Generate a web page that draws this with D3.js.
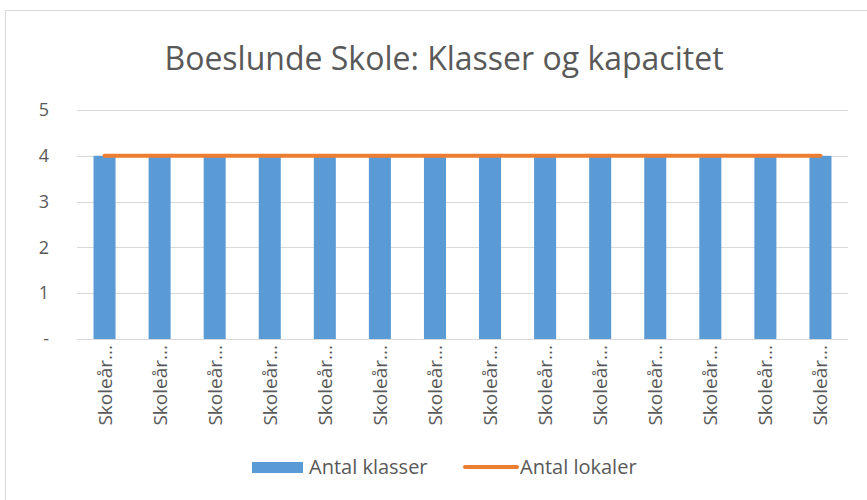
<!DOCTYPE html>
<html lang="da">
<head>
<meta charset="utf-8">
<title>Boeslunde Skole</title>
<script src="https://d3js.org/d3.v7.min.js"></script>
<style>
  body { margin: 0; background: #fff; }
  text { font-family: "Open Sans", "Noto Sans", sans-serif; fill: #595959; }
</style>
</head>
<body>
<div id="chart"></div>
<script>
// data
var categories = ["Skoleår...", "Skoleår...", "Skoleår...", "Skoleår...", "Skoleår...", "Skoleår...", "Skoleår...",
                  "Skoleår...", "Skoleår...", "Skoleår...", "Skoleår...", "Skoleår...", "Skoleår...", "Skoleår..."];
var antalKlasser = [4, 4, 4, 4, 4, 4, 4, 4, 4, 4, 4, 4, 4, 4];
var antalLokaler = [4, 4, 4, 4, 4, 4, 4, 4, 4, 4, 4, 4, 4, 4];
var yTicks = [0, 1, 2, 3, 4, 5];

var W = 867, H = 500;
var m = { left: 77, right: 19, top: 110, bottom: 161 };

var svg = d3.select("#chart").append("svg")
  .attr("width", W).attr("height", H);

// outer chart border
svg.append("rect")
  .attr("x", 5.5).attr("y", 10.5)
  .attr("width", W + 10).attr("height", H)
  .attr("fill", "none").attr("stroke", "#d9d9d9");

var x = d3.scaleBand()
  .domain(d3.range(categories.length))
  .range([m.left, W - m.right])
  .paddingInner(0.6).paddingOuter(0.3);

var y = d3.scaleLinear().domain([0, 5]).range([H - m.bottom, m.top]);

// gridlines
svg.append("g").selectAll("line")
  .data(yTicks)
  .enter().append("line")
  .attr("x1", m.left).attr("x2", W - m.right)
  .attr("y1", function(d) { return Math.round(y(d)) + 0.5; })
  .attr("y2", function(d) { return Math.round(y(d)) + 0.5; })
  .attr("stroke", "#d9d9d9").attr("stroke-width", 1);

// y axis labels
var yAxis = d3.axisLeft(y).tickValues(yTicks).tickSize(0).tickPadding(0)
  .tickFormat(function(d) { return d === 0 ? "-" : d; });
var ga = svg.append("g").attr("transform", "translate(49,0)").call(yAxis);
ga.select(".domain").remove();
ga.selectAll("text").attr("font-size", 18).style("fill", "#595959")
  .attr("font-family", "Open Sans");

// bars
svg.append("g").selectAll("rect")
  .data(antalKlasser)
  .enter().append("rect")
  .attr("x", function(d, i) { return x(i); })
  .attr("y", function(d) { return y(d); })
  .attr("width", x.bandwidth())
  .attr("height", function(d) { return y(0) - y(d); })
  .attr("fill", "#5b9bd5");

// line
var line = d3.line()
  .x(function(d, i) { return x(i) + x.bandwidth() / 2; })
  .y(function(d) { return y(d); });
svg.append("path")
  .datum(antalLokaler)
  .attr("d", line)
  .attr("fill", "none")
  .attr("stroke", "#ed7d31")
  .attr("stroke-width", 4)
  .attr("stroke-linecap", "round");

// x labels, rotated
svg.append("g").selectAll("text")
  .data(categories)
  .enter().append("text")
  .attr("transform", function(d, i) {
    return "translate(" + (x(i) + x.bandwidth() / 2 + 7) + "," + (y(0) + 6) + ") rotate(-90)";
  })
  .attr("text-anchor", "end")
  .attr("font-size", 19)
  .text(function(d) { return d; });

// title
svg.append("text")
  .attr("x", 444).attr("y", 70)
  .attr("text-anchor", "middle")
  .attr("font-size", 32)
  .text("Boeslunde Skole: Klasser og kapacitet");

// legend
var lg = svg.append("g").attr("transform", "translate(252,467)");
lg.append("rect").attr("x", 0).attr("y", -5).attr("width", 51).attr("height", 11).attr("fill", "#5b9bd5");
lg.append("text").attr("x", 57).attr("y", 7).attr("font-size", 20).text("Antal klasser");
lg.append("line").attr("x1", 213).attr("x2", 265).attr("y1", 0).attr("y2", 0)
  .attr("stroke", "#ed7d31").attr("stroke-width", 4).attr("stroke-linecap", "round");
lg.append("text").attr("x", 268).attr("y", 7).attr("font-size", 20).text("Antal lokaler");
</script>
</body>
</html>
